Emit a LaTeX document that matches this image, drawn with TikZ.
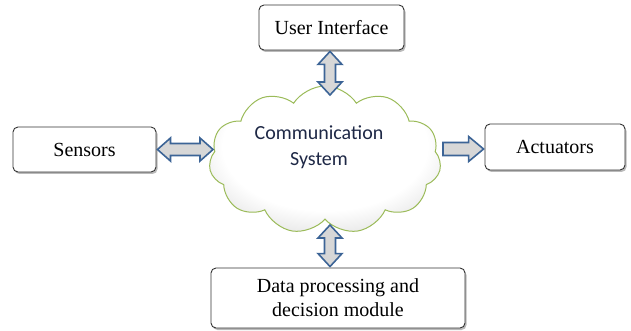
\documentclass[tikz,border=0pt]{standalone}
\usepackage{fontspec}
\setmainfont{Liberation Serif}
\newfontfamily\cloudfont{Carlito}
\usetikzlibrary{shapes.symbols,shadows,calc}
\definecolor{arrowblue}{RGB}{60,100,150}
\definecolor{arrowfill}{RGB}{215,215,215}
\definecolor{cloudgreen}{RGB}{155,187,89}
\definecolor{cloudtext}{RGB}{30,40,70}
\pgfdeclareradialshading{cloudshade}{\pgfpoint{0bp}{8bp}}{color(0bp)=(white); color(22bp)=(white); color(32bp)=(black!12); color(40bp)=(black!40); color(50bp)=(black!55)}
\tikzset{
  box/.style={draw=black!80, line width=0.9pt, rounded corners=5pt, fill=white,
    drop shadow={shadow xshift=1.5pt, shadow yshift=-2pt, fill=black!45, opacity=0.6},
    font=\fontsize{20}{24}\selectfont, align=center, inner sep=0pt},
  blk/.style={draw=arrowblue, fill=arrowfill, line width=1.6pt, line join=miter},
}
% vertical double arrow: #1 top point, #2 bottom point
\newcommand\vdblarrow[2]{%
  \draw[blk] let \p1=(#1), \p2=(#2) in
   (\x1,\y1) -- (\x1+12pt,\y1-13pt) -- (\x1+5.5pt,\y1-13pt) -- (\x1+5.5pt,\y2+13pt)
   -- (\x1+12pt,\y2+13pt) -- (\x1,\y2) -- (\x1-12pt,\y2+13pt) -- (\x1-5.5pt,\y2+13pt)
   -- (\x1-5.5pt,\y1-13pt) -- (\x1-12pt,\y1-13pt) -- cycle;}
% horizontal double arrow: #1 left point, #2 right point
\newcommand\hdblarrow[2]{%
  \draw[blk] let \p1=(#1), \p2=(#2) in
   (\x1,\y1) -- (\x1+13pt,\y1+11.5pt) -- (\x1+13pt,\y1+6pt) -- (\x2-13pt,\y1+6pt)
   -- (\x2-13pt,\y1+11.5pt) -- (\x2,\y1) -- (\x2-13pt,\y1-11.5pt) -- (\x2-13pt,\y1-6pt)
   -- (\x1+13pt,\y1-6pt) -- (\x1+13pt,\y1-11.5pt) -- cycle;}
% horizontal single arrow: #1 tail point, #2 tip point
\newcommand\hsglarrow[2]{%
  \draw[blk] let \p1=(#1), \p2=(#2) in
   (\x1,\y1+6.5pt) -- (\x2-15pt,\y1+6.5pt) -- (\x2-15pt,\y1+12.5pt) -- (\x2,\y1)
   -- (\x2-15pt,\y1-12.5pt) -- (\x2-15pt,\y1-6.5pt) -- (\x1,\y1-6.5pt) -- cycle;}
\begin{document}
\begin{tikzpicture}[x=1pt,y=-1pt]
\useasboundingbox (0,0) rectangle (631,331);
% cloud
\node[cloud, cloud puffs=11, cloud puff arc=115, aspect=1.55,
      minimum width=232pt, minimum height=148pt, inner sep=0pt,
      draw=cloudgreen, line width=1pt, shading=cloudshade]
  (cloud) at (325,160) {};
\node[text=cloudtext, font=\cloudfont\fontsize{20}{26}\selectfont, align=center, inner sep=0pt]
  (cloudtxt) at (319,147) {Communication\\System};
% boxes
\node[box, minimum width=145pt, minimum height=45pt] (ui) at (331.5,27.5) {User Interface};
\node[box, minimum width=143pt, minimum height=45pt] (sens) at (84.5,149.5) {Sensors};
\node[box, minimum width=140pt, minimum height=46pt] (act) at (555,147) {Actuators};
\node[box, minimum width=254pt, minimum height=60pt] (dp) at (338,298)
  {Data processing and\\decision module};
% connector end points on the cloud outline
\coordinate (ctop) at (330,95);
\coordinate (cbot) at (330,225);
\coordinate (cleft) at (213,149);
\coordinate (cright) at (443,149);
% arrows
\vdblarrow{$(ui.south)+(-1.5pt,-1pt)$}{ctop}
\vdblarrow{cbot}{$(dp.north)+(-8pt,1pt)$}
\hdblarrow{$(sens.east)+(1pt,0)$}{cleft}
\hsglarrow{cright}{$(act.west)+(-1pt,-2pt)$}
\end{tikzpicture}
\end{document}
